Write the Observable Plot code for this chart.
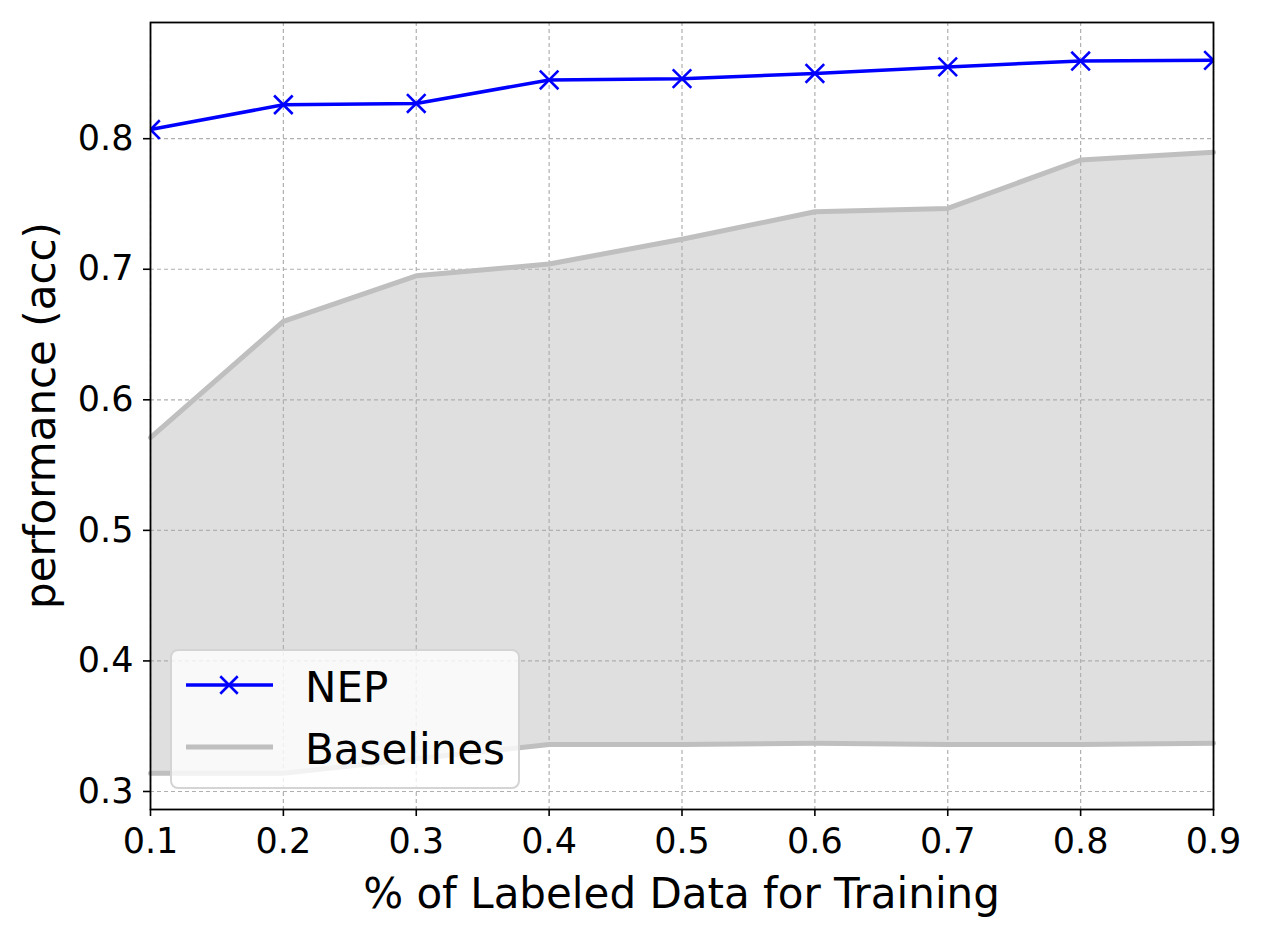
<!DOCTYPE html>
<html>
<head>
<meta charset="utf-8">
<script src="https://cdn.jsdelivr.net/npm/d3@7"></script>
<script src="https://cdn.jsdelivr.net/npm/@observablehq/plot@0.6"></script>
<style>
  html, body { margin: 0; padding: 0; background: white; }
  #chart { position: relative; width: 1262px; height: 936px; }
</style>
</head>
<body>
<div id="chart"></div>
<script>
const fractions = [0.1, 0.2, 0.3, 0.4, 0.5, 0.6, 0.7, 0.8, 0.9];
const nepAcc = [0.807, 0.826, 0.827, 0.845, 0.846, 0.850, 0.855, 0.8595, 0.860];
const baselineHigh = [0.571, 0.660, 0.695, 0.704, 0.723, 0.744, 0.7466, 0.7837, 0.7896];
const baselineLow = [0.314, 0.314, 0.325, 0.336, 0.336, 0.337, 0.336, 0.336, 0.337];
const xTicks = [0.1, 0.2, 0.3, 0.4, 0.5, 0.6, 0.7, 0.8, 0.9];
const yTicks = [0.3, 0.4, 0.5, 0.6, 0.7, 0.8];
const xLabel = "% of Labeled Data for Training";
const yLabel = "performance (acc)";
const seriesNames = ["NEP", "Baselines"];

const rows = fractions.map((x, i) => ({x, nep: nepAcc[i], hi: baselineHigh[i], lo: baselineLow[i]}));

const font = "DejaVu Sans";
const mL = 150, mR = 49, mT = 22, mB = 127, W = 1262, H = 936;
const chart = Plot.plot({
  width: W,
  height: H,
  marginLeft: mL,
  marginRight: mR,
  marginTop: mT,
  marginBottom: mB,
  style: {fontFamily: font, fontSize: "35px", background: "white", color: "black", overflow: "visible"},
  x: {domain: [0.1, 0.9]},
  y: {domain: [0.2862, 0.889]},
  marks: [
    Plot.areaY(rows, {x: "x", y1: "lo", y2: "hi", fill: "#dfdfdf"}),
    Plot.gridX(xTicks, {stroke: "#b0b0b0", strokeOpacity: 1, strokeWidth: 1.2, strokeDasharray: "4,3"}),
    Plot.gridY(yTicks, {stroke: "#b0b0b0", strokeOpacity: 1, strokeWidth: 1.2, strokeDasharray: "4,3"}),
    Plot.lineY(rows, {x: "x", y: "hi", stroke: "#bfbfbf", strokeWidth: 5}),
    Plot.lineY(rows, {x: "x", y: "lo", stroke: "#bfbfbf", strokeWidth: 5}),
    Plot.lineY(rows, {x: "x", y: "nep", stroke: "#0000ff", strokeWidth: 3.5, clip: true}),
    Plot.dot(rows, {x: "x", y: "nep", symbol: "times", r: 8.5, stroke: "#0000ff", strokeWidth: 2.6, clip: true}),
    Plot.axisX(xTicks, {tickSize: 7, tickPadding: 12, tickFormat: d3.format(".1f"), label: null, strokeWidth: 1.6}),
    Plot.axisY(yTicks, {tickSize: 7, tickPadding: 10, tickFormat: d3.format(".1f"), label: null, strokeWidth: 1.6}),
    Plot.frame({stroke: "black", strokeWidth: 1.8})
  ]
});

document.getElementById("chart").appendChild(chart);

const svg = d3.select(chart);
// Axis titles
svg.append("text")
  .attr("x", (mL + W - mR) / 2).attr("y", H - mB + 84).attr("dy", "0.36em")
  .attr("text-anchor", "middle").attr("font-family", font).attr("font-size", 42).attr("fill", "black")
  .text(xLabel);
svg.append("text")
  .attr("transform", `translate(${mL - 110},${(mT + H - mB) / 2}) rotate(-90)`).attr("dy", "0.36em")
  .attr("text-anchor", "middle").attr("font-family", font).attr("font-size", 42).attr("fill", "black")
  .text(yLabel);

// Legend inside the plot area (lower left)
const lg = svg.append("g").attr("font-family", font).attr("text-anchor", "start");
lg.append("rect")
  .attr("x", 171).attr("y", 650).attr("width", 348).attr("height", 138)
  .attr("rx", 7).attr("ry", 7)
  .attr("fill", "white").attr("fill-opacity", 0.8)
  .attr("stroke", "#d4d4d4").attr("stroke-width", 2);
lg.append("line").attr("x1", 186).attr("x2", 273).attr("y1", 685).attr("y2", 685)
  .attr("stroke", "#0000ff").attr("stroke-width", 3.5);
lg.append("path").attr("d", d3.symbol(d3.symbolTimes, 200)())
  .attr("transform", "translate(229,685)")
  .attr("fill", "none").attr("stroke", "#0000ff").attr("stroke-width", 2.6);
lg.append("text").attr("x", 305).attr("y", 687).attr("dy", "0.36em")
  .attr("font-size", 42).attr("fill", "black").attr("text-anchor", "start").text(seriesNames[0]);
lg.append("line").attr("x1", 186).attr("x2", 273).attr("y1", 747).attr("y2", 747)
  .attr("stroke", "#bfbfbf").attr("stroke-width", 5);
lg.append("text").attr("x", 305).attr("y", 749).attr("dy", "0.36em")
  .attr("font-size", 42).attr("fill", "black").attr("text-anchor", "start").text(seriesNames[1]);
</script>
</body>
</html>
